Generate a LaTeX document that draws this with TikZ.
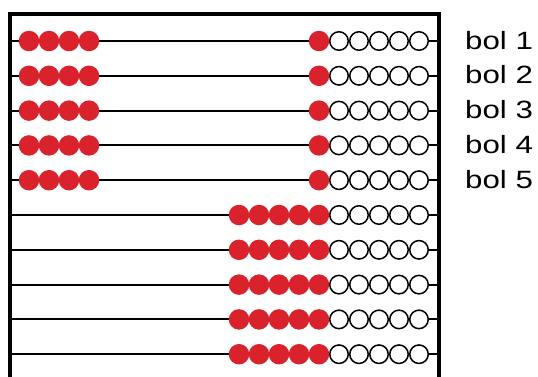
\documentclass[tikz,border=0pt]{standalone}
\usepackage{fontspec}
\usepackage{xcolor}
\usetikzlibrary{positioning}
\newfontfamily\labelfont[FakeStretch=1.25]{Liberation Sans}
\definecolor{beadred}{RGB}{218,34,44}

\begin{document}
\begin{tikzpicture}[x=1pt,y=-1pt,
  redbead/.style={circle, fill=beadred, minimum size=20.5pt, inner sep=0pt},
  whitebead/.style={circle, draw=black, line width=1.5pt, fill=white, minimum size=18.5pt, inner sep=0pt},
  rodlabel/.style={font=\labelfont\fontsize{25}{30}\selectfont, anchor=base west, inner sep=0pt}]
\useasboundingbox (0,0) rectangle (538,376);
% rods with the white beads
\foreach \r in {1,...,10} {
  \pgfmathsetmacro\ry{41+34.8*(\r-1)}
  \coordinate (L\r) at (10,\ry);
  \coordinate (R\r) at (439,\ry);
  \draw[line width=2pt] (L\r) -- (R\r);
  \foreach \b in {1,...,5}
    \node[whitebead] (w\r-\b) at ({319+20*\b},\ry) {};
}
% rows 1-5: four beads left, one bead right
\foreach \r in {1,...,5} {
  \pgfmathsetmacro\ry{41+34.8*(\r-1)}
  \foreach \b in {1,...,4}
    \node[redbead] (l\r-\b) at ({9+20*\b},\ry) {};
  \node[redbead] (m\r) at (319,\ry) {};
  \node[rodlabel] (lab\r) at (465,\ry+8) {bol \r};
}
% rows 6-10: five beads right
\foreach \r in {6,...,10} {
  \pgfmathsetmacro\ry{41+34.8*(\r-1)}
  \foreach \b in {1,...,5}
    \node[redbead] (l\r-\b) at ({219+20*\b},\ry) {};
}
% frame
\coordinate (fbl) at (10,380);
\coordinate (ftl) at (10,14);
\coordinate (ftr) at (439,14);
\coordinate (fbr) at (439,380);
\draw[line width=3.8pt] (fbl) -- (ftl) -- (ftr) -- (fbr);
\end{tikzpicture}
\end{document}
